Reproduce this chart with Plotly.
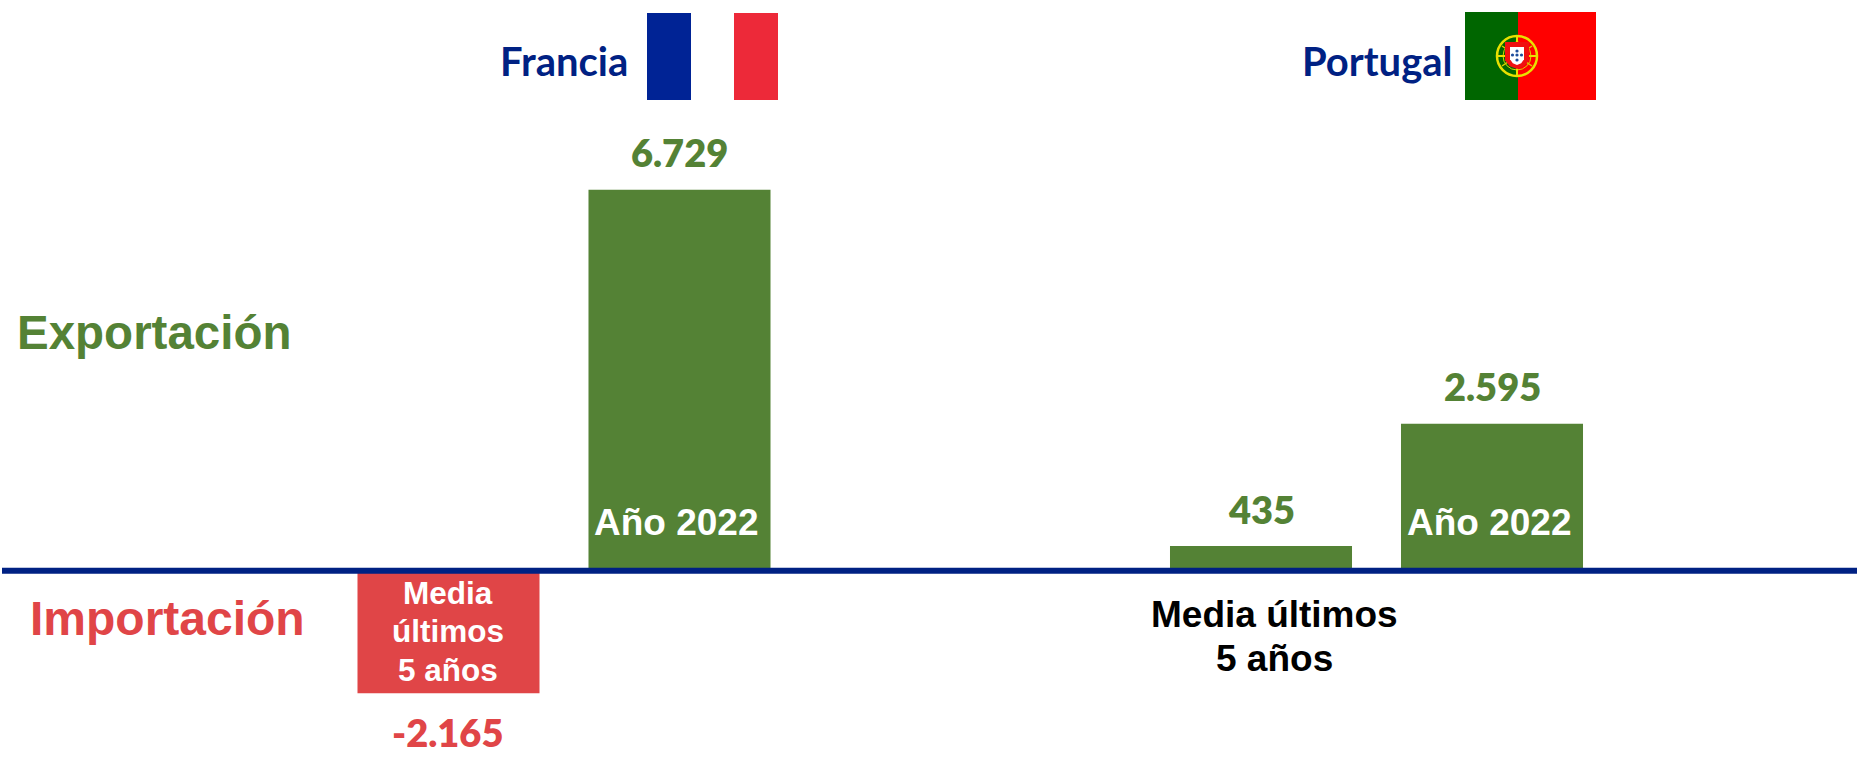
import plotly.graph_objects as go

W, H = 1857, 757

# ---- data ----
categories = ["Media últimos 5 años", "Año 2022"]
francia_values = [-2165, 6729]
portugal_values = [435, 2595]
francia_labels = ["-2.165", "6.729"]
portugal_labels = ["435", "2.595"]

GREEN = "#548235"
RED = "#E04547"
NAVY = "#002183"
BODY = "Liberation Sans"
HEAD = "Lato"


def px(x):
    return x / W


def py(y):
    return 1 - y / H


def rect(x0, y0, x1, y1, color):
    return dict(type="rect", xref="paper", yref="paper", x0=px(x0), x1=px(x1),
                y0=py(y1), y1=py(y0), fillcolor=color, line=dict(width=0), layer="above")


def circle(cx, cy, r, fill="rgba(0,0,0,0)", line=None, lw=0):
    return dict(type="circle", xref="paper", yref="paper", x0=px(cx - r), x1=px(cx + r),
                y0=py(cy + r), y1=py(cy - r), fillcolor=fill,
                line=dict(width=lw, color=line or fill), layer="above")


def seg(x0, y0, x1, y1, color, lw):
    return dict(type="line", xref="paper", yref="paper", x0=px(x0), x1=px(x1), y0=py(y0), y1=py(y1),
                line=dict(color=color, width=lw), layer="above")


def shield(cx, top, w, h, color):
    pts = [(cx - w / 2, top), (cx + w / 2, top), (cx + w / 2, top + h * 0.68),
           (cx + w * 0.3, top + h * 0.9), (cx, top + h), (cx - w * 0.3, top + h * 0.9),
           (cx - w / 2, top + h * 0.68)]
    path = "M " + " L ".join(f"{px(a):.5f},{py(b):.5f}" for a, b in pts) + " Z"
    return dict(type="path", xref="paper", yref="paper", path=path, fillcolor=color,
                line=dict(width=0), layer="above")


fig = go.Figure()
fig.add_bar(x=categories, y=francia_values, xaxis="x", yaxis="y",
            marker=dict(color=[RED if v < 0 else GREEN for v in francia_values], line=dict(width=0)))
fig.add_bar(x=categories, y=portugal_values, xaxis="x2", yaxis="y",
            marker=dict(color=[RED if v < 0 else GREEN for v in portugal_values], line=dict(width=0)))

shapes = [
    # baseline
    dict(type="line", xref="paper", yref="y", x0=px(2), x1=1, y0=0, y1=0,
         line=dict(color=NAVY, width=6), layer="above"),
    # French flag
    rect(647, 13, 691, 100, "#002395"),
    rect(734, 13, 778, 100, "#ED2939"),
    # Portuguese flag
    rect(1465, 12, 1518, 100, "#006600"),
    rect(1518, 12, 1596, 100, "#FF0000"),
    circle(1517, 56, 20, line="#E8E000", lw=2.5),
    circle(1517, 56, 14, line="#D8D000", lw=1),
    seg(1517, 35, 1517, 77, "#E8E000", 2),
    seg(1496, 56, 1538, 56, "#E8E000", 2),
    seg(1502, 46, 1532, 66, "#D8D000", 1.5),
    seg(1502, 66, 1532, 46, "#D8D000", 1.5),
    shield(1517, 42, 24, 27, "#F01010"),
    shield(1517, 47, 14, 18, "#FFFFFF"),
    circle(1517, 51, 1.6, fill="#1F4E9C"),
    circle(1512.5, 55, 1.6, fill="#1F4E9C"),
    circle(1517, 55, 1.6, fill="#1F4E9C"),
    circle(1521.5, 55, 1.6, fill="#1F4E9C"),
    circle(1517, 60, 1.6, fill="#1F4E9C"),
]


def txt(text, size, color, family, x, y=None, xref="paper", yref="paper", yshift=0, xshift=0, weight="bold"):
    return dict(text=text, x=x, y=y, xref=xref, yref=yref, yshift=yshift, xshift=xshift, showarrow=False,
                xanchor="center", yanchor="middle", align="center",
                font=dict(size=size, color=color, family=family, weight=weight))


annotations = [
    txt("Francia", 40, NAVY, HEAD, px(564), py(61)),
    txt("Portugal", 40, NAVY, HEAD, px(1377), py(61)),
    txt("Exportación", 47.5, GREEN, BODY, px(154), py(333)),
    txt("Importación", 48, RED, BODY, px(167.5), py(618)),
    # value labels
    txt(francia_labels[0], 38, RED, HEAD, categories[0], francia_values[0], "x", "y", -39, -1, 800),
    txt(francia_labels[1], 38, GREEN, HEAD, categories[1], francia_values[1], "x", "y", 38, 0, 800),
    txt(portugal_labels[0], 38, GREEN, HEAD, categories[0], portugal_values[0], "x2", "y", 37, 0, 800),
    txt(portugal_labels[1], 38, GREEN, HEAD, categories[1], portugal_values[1], "x2", "y", 38, 0, 800),
    # category labels inside the red bar
    txt("Media", 31.5, "#FFFFFF", BODY, categories[0], py(593), "x", "paper", xshift=-1),
    txt("últimos", 31.5, "#FFFFFF", BODY, categories[0], py(631), "x", "paper", xshift=-1),
    txt("5 años", 31.5, "#FFFFFF", BODY, categories[0], py(670), "x", "paper", xshift=-1),
    txt("Año 2022", 37, "#FFFFFF", BODY, categories[1], py(522), "x", "paper", xshift=-3),
    txt("Media últimos", 37, "#000000", BODY, px(1274), py(614)),
    txt("5 años", 37, "#000000", BODY, px(1274), py(658)),
    txt("Año 2022", 37, "#FFFFFF", BODY, categories[1], py(522), "x2", "paper", xshift=-3),
]

hidden = dict(visible=False, fixedrange=True)
fig.update_layout(
    width=W, height=H, margin=dict(l=0, r=0, t=0, b=0),
    paper_bgcolor="white", plot_bgcolor="white", showlegend=False,
    bargap=0.212, barmode="overlay",
    xaxis=dict(domain=[px(333), px(795)], categoryorder="array", categoryarray=categories,
               anchor="y", **hidden),
    xaxis2=dict(domain=[px(1145.5), px(1607.5)], categoryorder="array", categoryarray=categories,
                anchor="y", **hidden),
    yaxis=dict(domain=[0, 1], range=[-3290, 10080], **hidden),
    shapes=shapes, annotations=annotations,
)

fig.write_html("out.html", config=dict(displayModeBar=False),
               post_script="document.body.style.margin='0';document.documentElement.style.overflow='hidden';")
